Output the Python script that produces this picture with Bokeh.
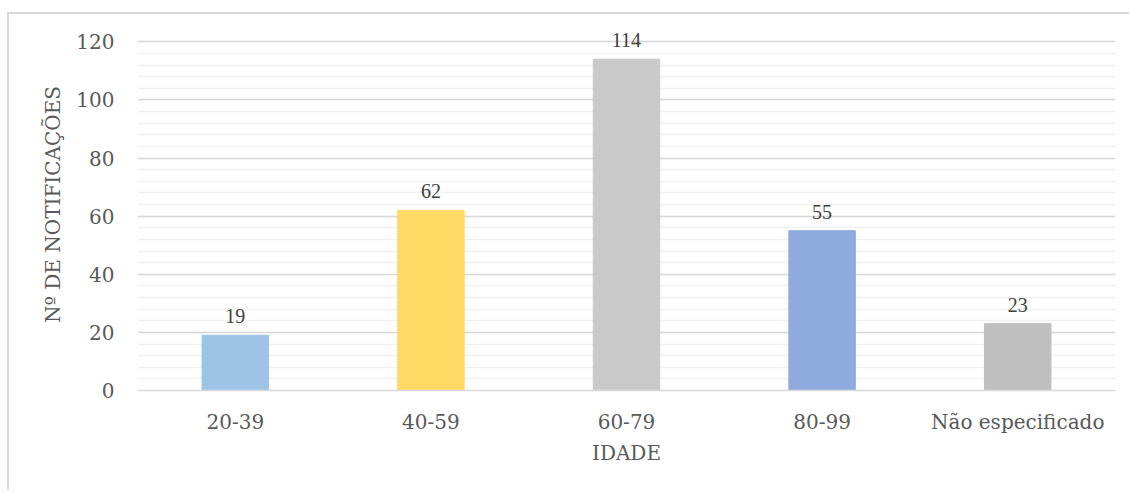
from bokeh.plotting import figure
from bokeh.models import ColumnDataSource, LabelSet, FixedTicker
from bokeh.embed import file_html
from bokeh.resources import INLINE

categories = ["20-39", "40-59", "60-79", "80-99", "Não especificado"]
values = [19, 62, 114, 55, 23]
colors = ["#9DC3E6", "#FFD966", "#C9C9C9", "#8FAADC", "#BFBFBF"]
y_ticks = [0, 20, 40, 60, 80, 100, 120]
y_minor = list(range(0, 121, 4))
y_label = "Nº DE NOTIFICAÇÕES"
x_label = "IDADE"

FONT = "DejaVu Serif"
FS = "20px"

src = ColumnDataSource(dict(cat=categories, val=values, color=colors,
                            lab=[str(v) for v in values]))

p = figure(x_range=categories, y_range=(0, 128), width=1122, height=478,
           output_backend="svg", toolbar_location=None,
           min_border_left=128, min_border_right=16, min_border_top=4,
           min_border_bottom=102)
p.margin = (12, 0, 0, 7)
p.styles = {"border-top": "2px solid #d9d9d9", "border-left": "2px solid #d9d9d9"}
p.outline_line_color = None
p.background_fill_color = "white"

p.vbar(x="cat", top="val", width=0.34, color="color", source=src)

p.add_layout(LabelSet(x="cat", y="val", text="lab", source=src,
                      text_align="center", text_baseline="bottom", y_offset=12,
                      text_font=FONT, text_font_size=FS, text_color="#404040"))

p.yaxis.ticker = FixedTicker(ticks=y_ticks, minor_ticks=y_minor)
p.yaxis.axis_line_color = None
p.yaxis.major_tick_line_color = None
p.yaxis.minor_tick_line_color = None
p.yaxis.major_label_standoff = 17
p.yaxis.major_label_text_font = FONT
p.yaxis.major_label_text_font_size = FS
p.yaxis.major_label_text_color = "#595959"
p.yaxis.axis_label = y_label
p.yaxis.axis_label_text_font = FONT
p.yaxis.axis_label_text_font_size = FS
p.yaxis.axis_label_text_font_style = "normal"
p.yaxis.axis_label_text_color = "#595959"
p.yaxis.axis_label_standoff = 8

p.xaxis.axis_line_color = "#d9d9d9"
p.xaxis.axis_line_width = 1.5
p.xaxis.major_tick_line_color = None
p.xaxis.minor_tick_line_color = None
p.xaxis.major_label_standoff = 13
p.xaxis.major_label_text_font = FONT
p.xaxis.major_label_text_font_size = FS
p.xaxis.major_label_text_color = "#595959"
p.xaxis.axis_label = x_label
p.xaxis.axis_label_text_font = FONT
p.xaxis.axis_label_text_font_size = FS
p.xaxis.axis_label_text_font_style = "normal"
p.xaxis.axis_label_text_color = "#595959"
p.xaxis.axis_label_standoff = 4

p.xgrid.grid_line_color = None
p.ygrid.grid_line_color = "#d9d9d9"
p.ygrid.grid_line_width = 1.5
p.ygrid.minor_grid_line_color = "#f0f0f0"
p.ygrid.minor_grid_line_width = 1.5
p.ygrid.level = "underlay"

open("out.html", "w").write(file_html(p, INLINE))
